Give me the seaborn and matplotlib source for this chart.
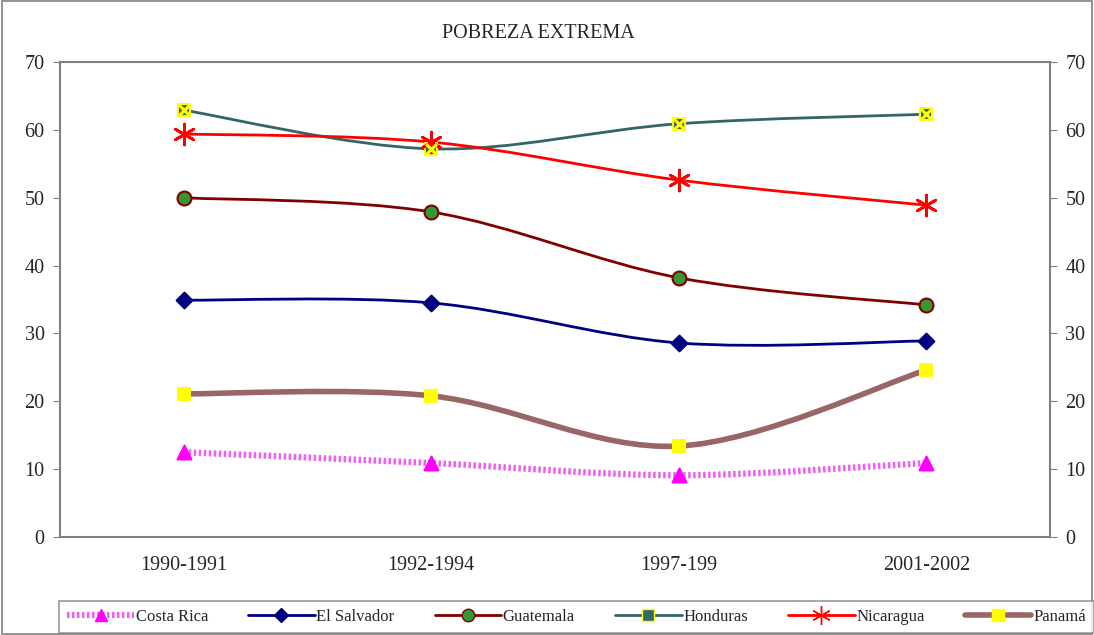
import numpy as np
import pandas as pd
import matplotlib
matplotlib.use("Agg")
import matplotlib.pyplot as plt
import seaborn as sns
from matplotlib.path import Path
from matplotlib.patches import PathPatch, Rectangle
from matplotlib.lines import Line2D
from matplotlib.font_manager import FontProperties

# Data
periods = ["1990-1991", "1992-1994", "1997-199", "2001-2002"]
costa_rica = [12.5, 10.9, 9.1, 10.9]
el_salvador = [34.9, 34.5, 28.6, 28.9]
guatemala = [50.0, 47.9, 38.2, 34.2]
honduras = [62.9, 57.2, 60.9, 62.3]
nicaragua = [59.4, 58.2, 52.6, 48.9]
panama = [21.1, 20.8, 13.4, 24.6]
countries = ["Costa Rica", "El Salvador", "Guatemala", "Honduras", "Nicaragua", "Panamá"]

sns.set_style("white")
serif = ["Liberation Serif", "DejaVu Serif"]
plt.rcParams["font.family"] = serif

fig = plt.figure(figsize=(10.94, 6.35), dpi=100)
ax = fig.add_axes([60 / 1094, 1 - 537 / 635, 990 / 1094, 475 / 635])

x = np.arange(len(periods))


def smooth_path(xs, ys, t=0.5):
    # cardinal spline as cubic Bezier through the points (like Excel's smoothed line)
    pts = np.column_stack([xs, ys]).astype(float)
    ext = np.vstack([pts[0], pts, pts[-1]])
    verts = [tuple(pts[0])]
    codes = [Path.MOVETO]
    k = t / 3
    for i in range(1, len(ext) - 2):
        p0, p1, p2, p3 = ext[i - 1], ext[i], ext[i + 1], ext[i + 2]
        c1 = p1 + (p2 - p0) * k
        c2 = p2 - (p3 - p1) * k
        verts += [tuple(c1), tuple(c2), tuple(p2)]
        codes += [Path.CURVE4] * 3
    return Path(verts, codes)


styles = {
    "Costa Rica": dict(color="#F060F0", lw=4.5, ls=(0, (0.4, 0.4)), marker="^", mfc="#FF00FF", mec="#FF00FF", ms=10),
    "El Salvador": dict(color="#000080", lw=2, ls="-", marker="D", mfc="#000080", mec="#000080", ms=8),
    "Guatemala": dict(color="#800000", lw=2, ls="-", marker="o", mfc="#339933", mec="#800000", ms=10),
    "Honduras": dict(color="#336666", lw=2, ls="-", marker="s", mfc="#336666", mec="#FFFF00", ms=9),
    "Nicaragua": dict(color="#FF0000", lw=2, ls="-", marker=(6, 2, 0), mfc="#FF0000", mec="#FF0000", ms=15),
    "Panamá": dict(color="#996666", lw=4, ls="-", marker="s", mfc="#FFFF00", mec="#FFFF00", ms=9),
}

series = [costa_rica, el_salvador, guatemala, honduras, nicaragua, panama]
df = pd.DataFrame({"x": np.tile(x, len(countries)),
                   "y": np.concatenate(series),
                   "country": np.repeat(countries, len(periods))})

for name, vals in zip(countries, series):
    st = styles[name]
    patch = PathPatch(smooth_path(x, vals), facecolor="none", edgecolor=st["color"],
                      lw=st["lw"], linestyle=st["ls"], zorder=2, capstyle="butt")
    ax.add_patch(patch)

for name in countries:
    st = styles[name]
    sub = df[df["country"] == name]
    sns.scatterplot(data=sub, x="x", y="y", ax=ax, marker=st["marker"], s=st["ms"] ** 2,
                    color=st["mfc"], edgecolor=st["mec"], linewidth=2 if name == "Nicaragua" else 1.5,
                    zorder=3, legend=False)
    if name == "Honduras":
        sns.scatterplot(data=sub, x="x", y="y", ax=ax, marker="x", s=60, color="#FFFF00",
                        linewidth=2.2, zorder=4, legend=False)

ax.set_xlim(-0.5, len(periods) - 0.5)
ax.set_ylim(0, 70)
ax.set_yticks(range(0, 71, 10))
ax.set_xticks(x)
ax.set_xticklabels(periods, fontsize=14.5, family=serif)
ax.set_yticklabels([str(v) for v in range(0, 71, 10)], fontsize=14.5, family=serif)
ax.set_xticks(np.arange(-0.5, len(periods), 1), minor=True)
ax.tick_params(axis="x", which="major", length=0, pad=14)
ax.tick_params(axis="x", which="minor", length=7, direction="out", color="#808080")
ax.tick_params(axis="y", length=5, direction="out", color="#808080", pad=6)
ax.set_xlabel("")
ax.set_ylabel("")
for sp in ax.spines.values():
    sp.set_color("#808080")
    sp.set_linewidth(1.5)

ax2 = ax.twinx()
ax2.set_ylim(0, 70)
ax2.set_yticks(range(0, 71, 10))
ax2.set_yticklabels([str(v) for v in range(0, 71, 10)], fontsize=14.5, family=serif)
ax2.tick_params(axis="y", length=5, direction="out", color="#808080", pad=6)
for sp in ax2.spines.values():
    sp.set_visible(False)

fig.text(538 / 1094, 1 - 33 / 635, "POBREZA EXTREMA", ha="center", va="center",
         fontsize=14.5, family=serif)

handles = []
for name in countries:
    st = styles[name]
    handles.append(Line2D([0], [0], color=st["color"], lw=st["lw"], ls=st["ls"], marker=st["marker"],
                          mfc=st["mfc"], mec=st["mec"], ms=st["ms"] * 0.9))
leg = fig.legend(handles, countries, loc="center", bbox_to_anchor=(0.527, 1 - 617 / 635), ncol=6,
                 handlelength=4.0, columnspacing=2.4, handletextpad=0.1,
                 prop=FontProperties(family="Liberation Serif", size=12),
                 frameon=True, fancybox=False, borderpad=0.5)
leg.get_frame().set_edgecolor("#808080")
leg.get_frame().set_linewidth(1.2)

fig.patches.append(Rectangle((0.002, 0.002), 0.996, 0.996, transform=fig.transFigure,
                             fill=False, edgecolor="#808080", lw=1.2))

fig.savefig("out.png", dpi=100)
